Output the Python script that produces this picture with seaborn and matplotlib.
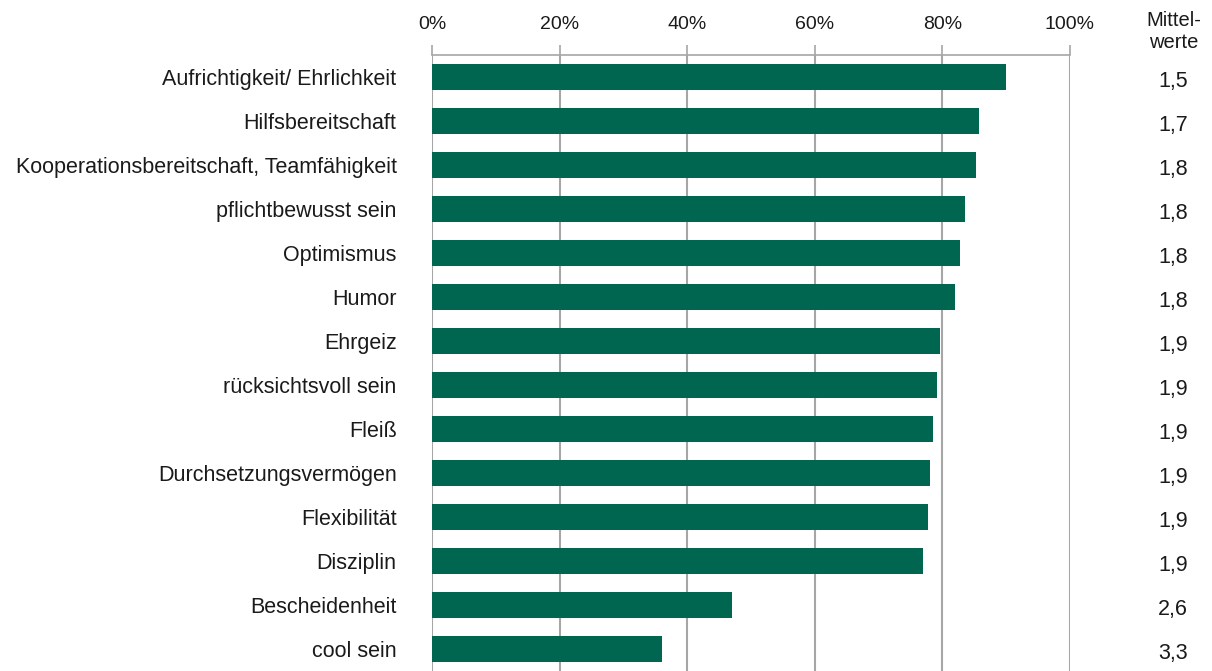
import matplotlib
matplotlib.use("Agg")
import matplotlib.pyplot as plt
import seaborn as sns
import pandas as pd
from matplotlib.ticker import FuncFormatter

categories = [
    "Aufrichtigkeit/ Ehrlichkeit",
    "Hilfsbereitschaft",
    "Kooperationsbereitschaft, Teamfähigkeit",
    "pflichtbewusst sein",
    "Optimismus",
    "Humor",
    "Ehrgeiz",
    "rücksichtsvoll sein",
    "Fleiß",
    "Durchsetzungsvermögen",
    "Flexibilität",
    "Disziplin",
    "Bescheidenheit",
    "cool sein",
]
percent = [90.0, 85.7, 85.2, 83.5, 82.7, 81.9, 79.6, 79.1, 78.5, 78.0, 77.7, 76.9, 47.1, 36.0]
means = ["1,5", "1,7", "1,8", "1,8", "1,8", "1,8", "1,9", "1,9", "1,9", "1,9", "1,9", "1,9", "2,6", "3,3"]
x_ticks = [0, 20, 40, 60, 80, 100]

sns.set_style("white")
plt.rcParams["font.family"] = ["Liberation Sans", "DejaVu Sans"]

df = pd.DataFrame({"Eigenschaft": categories, "Anteil": percent})

fig = plt.figure(figsize=(12.12, 6.71), dpi=100)
ax = fig.add_axes([432 / 1212, 0.0, (1070 - 432) / 1212, 1 - 55 / 671])

sns.barplot(data=df, y="Eigenschaft", x="Anteil", orient="h", color="#006650",
            saturation=1, width=0.6, linewidth=0, edgecolor="none", ax=ax, zorder=3)

ax.set_xlim(0, 100)
ax.set_ylim(len(categories) - 0.5, -0.5)
ax.set_xticks(x_ticks)
ax.xaxis.set_major_formatter(FuncFormatter(lambda v, p: f"{int(v)}%"))
ax.xaxis.tick_top()
ax.tick_params(axis="x", which="both", top=True, bottom=False, length=7, width=1.2,
               color="#a6a6a6", labelsize=14, pad=9, labelcolor="#1a1a1a")
ax.tick_params(axis="y", left=False, labelsize=15.5, pad=22, labelcolor="#1a1a1a")
ax.set_xlabel("")
ax.set_ylabel("")
ax.grid(axis="x", color="#a6a6a6", linewidth=1.5, zorder=0)
ax.grid(axis="y", visible=False)
for s in ["left", "right", "bottom"]:
    ax.spines[s].set_visible(False)
ax.spines["top"].set_visible(True)
ax.spines["top"].set_color("#a6a6a6")
ax.spines["top"].set_linewidth(1.2)

# Mittelwerte column
fig.text(1174 / 1212, 1 - 20 / 671, "Mittel-", ha="center", va="center", fontsize=14.5, color="#1a1a1a")
fig.text(1174 / 1212, 1 - 42 / 671, "werte", ha="center", va="center", fontsize=14.5, color="#1a1a1a")
trans = matplotlib.transforms.blended_transform_factory(fig.transFigure, ax.transData)
for i, m in enumerate(means):
    ax.text(1173 / 1212, i + 0.1, m, transform=trans, ha="center", va="center",
            fontsize=15.5, color="#1a1a1a", clip_on=False)

fig.savefig("out.png", dpi=100)
